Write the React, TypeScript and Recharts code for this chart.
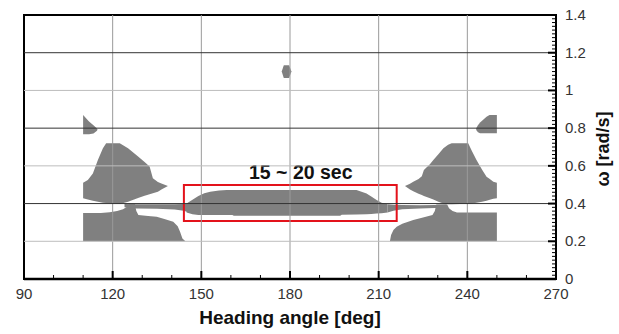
import React from 'react';
import { ComposedChart, Area, XAxis, YAxis, ReferenceLine, ReferenceArea } from 'recharts';

// axis ticks
const xMajor = [90, 120, 150, 180, 210, 240, 270];
const xMinor = [90, 100, 110, 120, 130, 140, 150, 160, 170, 180, 190, 200, 210, 220, 230, 240, 250, 260, 270];
const yMajor = [0, 0.2, 0.4, 0.6, 0.8, 1, 1.2, 1.4];
const yMinor = Array.from({ length: 71 }, (_, i) => Math.round(i * 2) / 100);

const gridCols = [120, 150, 180, 210, 240];
const darkRows = [0.4, 0.8, 1.2];
const lightRows = [0.2, 0.6, 1.0];

// contour regions: [heading, omega low, omega high]
const leftTip = [
  [110, 0.768, 0.87], [112, 0.768, 0.835], [113.5, 0.772, 0.815], [114.6, 0.785, 0.8], [114.9, 0.792, 0.792],
];
const rightTip = [
  [243, 0.79, 0.8], [243.6, 0.778, 0.815], [244.3, 0.773, 0.83], [246.5, 0.773, 0.861], [247.5, 0.773, 0.87], [250, 0.773, 0.87],
];
const topBlob = [
  [177.2, 1.1, 1.1], [177.9, 1.066, 1.134], [179.7, 1.066, 1.134], [180.5, 1.1, 1.1],
];
const leftLobe = [
  [110, 0.428, 0.51], [111.6, 0.422, 0.525], [113.3, 0.415, 0.56], [115, 0.41, 0.631], [116.7, 0.405, 0.693],
  [117.8, 0.403, 0.72], [122.4, 0.398, 0.72], [125.2, 0.41, 0.693], [128.6, 0.43, 0.649], [130.8, 0.442, 0.62],
  [132.5, 0.45, 0.596], [133.6, 0.455, 0.534], [135.3, 0.463, 0.515], [136.5, 0.475, 0.507], [138.7, 0.493, 0.493],
];
const leftLow = [
  [110, 0.2, 0.35], [116, 0.2, 0.35], [119, 0.2, 0.354], [121.5, 0.2, 0.36], [123.5, 0.2, 0.37], [125, 0.2, 0.385],
  [125.5, 0.2, 0.398], [127.5, 0.2, 0.398], [128, 0.2, 0.36], [128.7, 0.2, 0.34], [132, 0.2, 0.334], [134.9, 0.2, 0.33],
  [137.5, 0.2, 0.318], [140.5, 0.2, 0.304], [142, 0.2, 0.28], [142.8, 0.2, 0.251], [143.6, 0.2, 0.215], [144.6, 0.2, 0.2],
];
const leftBand = [
  [124, 0.38, 0.398], [128, 0.374, 0.397], [135, 0.372, 0.396], [141, 0.368, 0.397], [144, 0.362, 0.398], [146, 0.352, 0.4],
];
const center = [
  [145, 0.352, 0.4], [147, 0.343, 0.42], [149, 0.34, 0.44], [151, 0.339, 0.455], [153, 0.339, 0.463], [156, 0.339, 0.469],
  [158.6, 0.339, 0.472], [160.5, 0.339, 0.472], [161, 0.335, 0.472], [197, 0.335, 0.472], [197.5, 0.341, 0.472],
  [202.5, 0.342, 0.472], [205.9, 0.343, 0.454], [207.5, 0.345, 0.437], [209.3, 0.347, 0.419], [211, 0.349, 0.405],
  [213, 0.352, 0.396],
];
const rightBand = [
  [213, 0.352, 0.396], [215, 0.362, 0.394], [218, 0.37, 0.392], [224, 0.374, 0.391], [229, 0.376, 0.392], [233, 0.378, 0.395],
];
const rightLow = [
  [213.8, 0.2, 0.2], [214.2, 0.2, 0.233], [215, 0.2, 0.26], [216.1, 0.2, 0.277], [218, 0.2, 0.293], [221.7, 0.2, 0.313],
  [225, 0.2, 0.326], [228.2, 0.2, 0.339], [229, 0.2, 0.36], [229.5, 0.2, 0.395], [233.2, 0.2, 0.395], [233.8, 0.2, 0.375],
  [235, 0.2, 0.36], [236.5, 0.2, 0.353], [250, 0.2, 0.352],
];
const rightLobe = [
  [218.9, 0.493, 0.493], [220.6, 0.474, 0.505], [221.7, 0.466, 0.516], [223.5, 0.452, 0.53], [224.6, 0.445, 0.545],
  [225.3, 0.44, 0.578], [227.4, 0.428, 0.61], [228.5, 0.421, 0.631], [230.2, 0.41, 0.662], [231.9, 0.401, 0.693],
  [233.5, 0.396, 0.712], [234.7, 0.396, 0.72], [240.3, 0.399, 0.72], [241.5, 0.401, 0.68], [243.1, 0.404, 0.631],
  [245, 0.41, 0.58], [246.5, 0.415, 0.542], [247.6, 0.42, 0.53], [248.8, 0.425, 0.516], [250, 0.428, 0.51],
];

const shapes: [string, number[][]][] = [
  ['leftTip', leftTip], ['rightTip', rightTip], ['topBlob', topBlob], ['leftLobe', leftLobe], ['leftLow', leftLow],
  ['leftBand', leftBand], ['center', center], ['rightBand', rightBand], ['rightLow', rightLow], ['rightLobe', rightLobe],
];

const rows = shapes
  .flatMap(([key, pts]) => pts.map(([x, lo, hi]) => ({ x, key, lo, hi })))
  .sort((a, b) => a.x - b.x);

const FILL = '#808080';
const FONT = '"Liberation Sans", Arial, Helvetica, sans-serif';

const BottomTick = (props: any) => {
  const { x, y, payload } = props;
  const v = payload.value;
  const major = xMajor.includes(v);
  return (
    <g>
      <line x1={x} x2={x} y1={y} y2={y - (major ? 8 : 4)} stroke="#000" strokeWidth={major ? 2 : 1} />
      {major && (
        <text x={x} y={y + 20} textAnchor="middle" fontSize={15} fill="#333" fontFamily={FONT}>
          {v}
        </text>
      )}
    </g>
  );
};

const RightTick = (props: any) => {
  const { x, y, payload } = props;
  const v = payload.value;
  const major = yMajor.some((m) => Math.abs(m - v) < 1e-6);
  return (
    <g>
      <line x1={x} x2={x - (major ? 8 : 4)} y1={y} y2={y} stroke="#000" strokeWidth={major ? 2 : 1} />
      {major && (
        <text x={x + 9} y={y} dy={5} textAnchor="start" fontSize={15} fill="#333" fontFamily={FONT}>
          {String(Number(v.toFixed(1)))}
        </text>
      )}
    </g>
  );
};

export default function App() {
  return (
    <div style={{ position: 'absolute', left: 0, top: 0, fontFamily: FONT, background: '#fff' }}>
      <ComposedChart width={619} height={334} data={rows} margin={{ top: 15, right: 0, bottom: 0, left: 24 }}>
        {gridCols.map((c) => (
          <ReferenceLine key={'c' + c} x={c} stroke="#9a9a9a" strokeWidth={1} />
        ))}
        {lightRows.map((r) => (
          <ReferenceLine key={'l' + r} y={r} stroke="#bdbdbd" strokeWidth={1} />
        ))}
        {darkRows.map((r) => (
          <ReferenceLine key={'d' + r} y={r} stroke="#333" strokeWidth={1} />
        ))}

        {shapes.map(([key]) => (
          <Area
            key={key}
            type="linear"
            dataKey={(r: any) => (r.key === key ? [r.lo, r.hi] : [null, null])}
            fill={FILL}
            fillOpacity={1}
            stroke="none"
            connectNulls
            dot={false}
            activeDot={false}
            isAnimationActive={false}
          />
        ))}

        <ReferenceArea
          x1={144.1}
          x2={216.1}
          y1={0.308}
          y2={0.498}
          fill="none"
          stroke="#e3121b"
          strokeWidth={2}
          label={{
            content: (p: any) => {
              const vb = p.viewBox;
              return (
                <text
                  x={vb.x + vb.width / 2 + 10.5}
                  y={vb.y - 6}
                  textAnchor="middle"
                  fontSize={19.5}
                  fontWeight={700}
                  fill="#111"
                  fontFamily={FONT}
                >
                  15 ~ 20 sec
                </text>
              );
            },
          }}
        />

        {/* plot frame */}
        <ReferenceArea x1={90} x2={270} y1={0} y2={1.4} fill="none" stroke="#000" strokeWidth={2} />

        <XAxis
          dataKey="x"
          type="number"
          domain={[90, 270]}
          ticks={xMinor}
          interval={0}
          height={55}
          tickSize={0}
          tickMargin={0}
          tickLine={false}
          tick={<BottomTick />}
          axisLine={{ stroke: '#000', strokeWidth: 2.5 }}
          label={{ value: 'Heading angle [deg]', position: 'insideBottom', offset: 10, fontSize: 19, fontWeight: 700, fill: '#111' }}
        />
        <YAxis
          orientation="right"
          type="number"
          domain={[0, 1.4]}
          ticks={yMinor}
          interval={0}
          width={63}
          tickSize={0}
          tickMargin={0}
          tickLine={false}
          tick={<RightTick />}
          axisLine={{ stroke: '#000', strokeWidth: 2 }}
          label={{
            content: (p: any) => {
              const vb = p.viewBox;
              const cx = vb.x + 47;
              const cy = vb.y + vb.height / 2 + 2;
              return (
                <text
                  x={cx}
                  y={cy}
                  transform={`rotate(-90 ${cx} ${cy})`}
                  textAnchor="middle"
                  dominantBaseline="central"
                  fontSize={18}
                  fontWeight={700}
                  fill="#111"
                  fontFamily={FONT}
                >
                  ω [rad/s]
                </text>
              );
            },
          }}
        />
      </ComposedChart>
    </div>
  );
}
